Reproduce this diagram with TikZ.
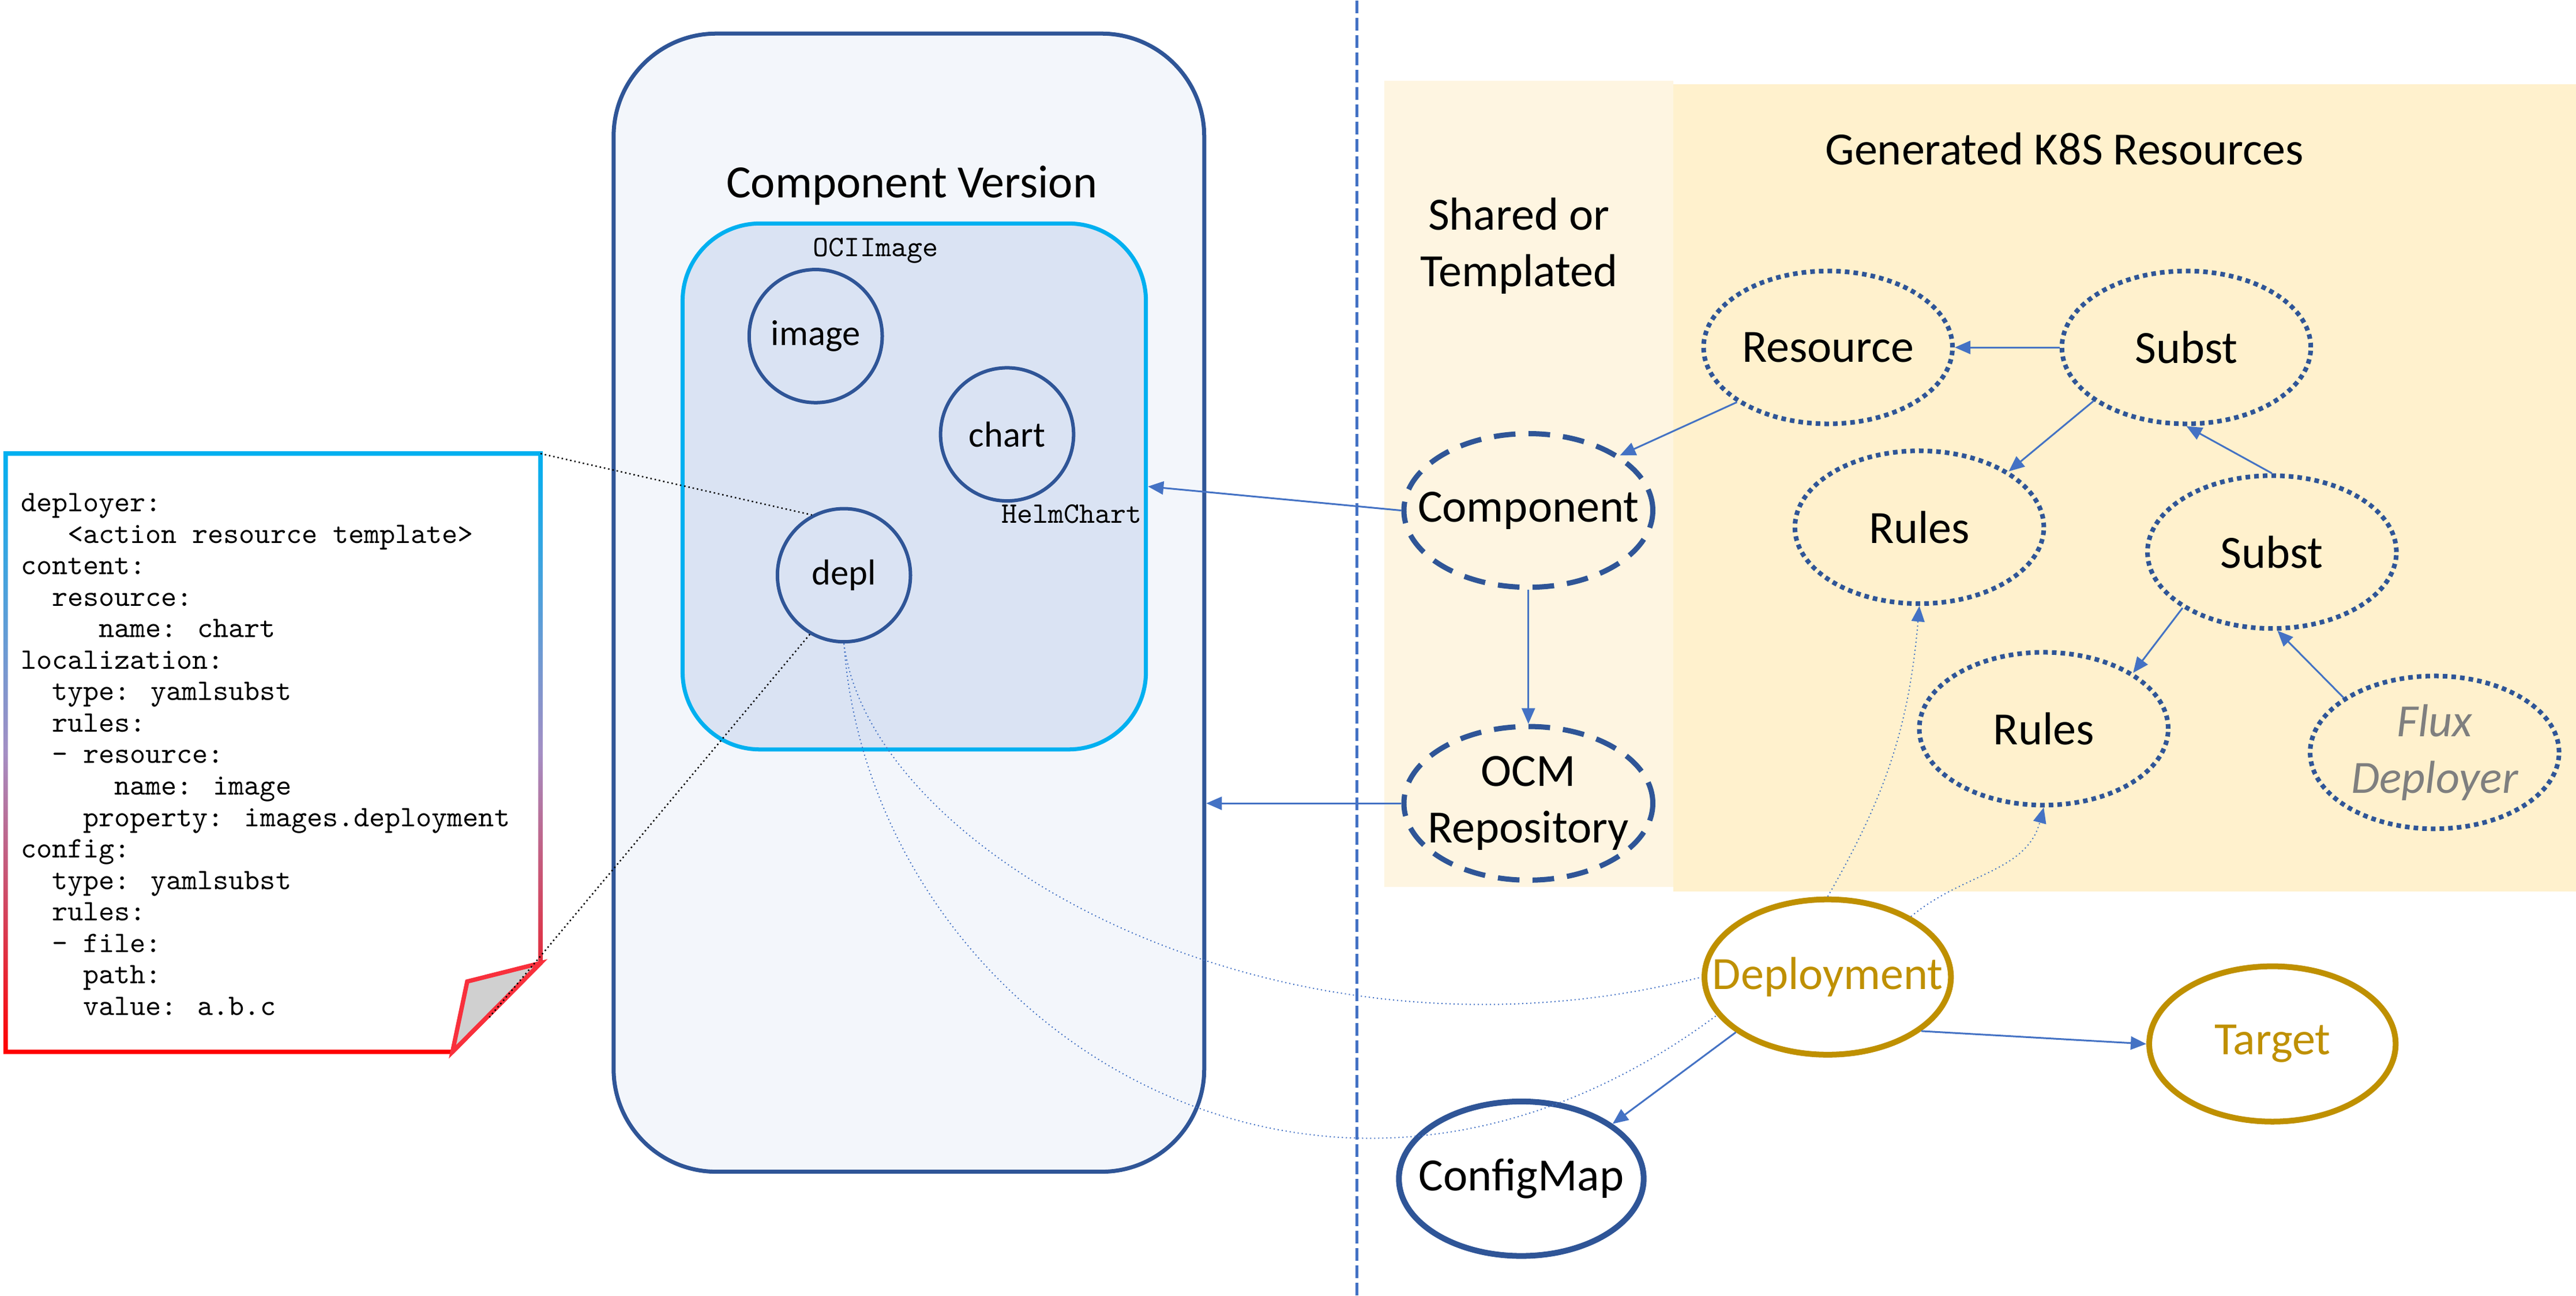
\documentclass[tikz,border=0pt]{standalone}
\usepackage{color}
\usepackage{tikz}
\usepackage{fontspec}
\setmainfont{Carlito}
\usetikzlibrary{shapes.geometric,arrows.meta}

\definecolor{darkblue}{HTML}{2F5597}
\definecolor{lineblue}{HTML}{4472C4}
\definecolor{cyanblue}{HTML}{00B0F0}
\definecolor{innerfill}{HTML}{DAE3F3}
\definecolor{outerfill}{HTML}{F3F6FB}
\definecolor{sharedbg}{HTML}{FEF5E1}
\definecolor{genbg}{HTML}{FFF1CD}
\definecolor{gold}{HTML}{BF9000}
\definecolor{fluxgray}{HTML}{7F7F7F}
\definecolor{notetop}{HTML}{00B0F0}
\definecolor{notemid}{HTML}{A48FC4}
\definecolor{notebot}{HTML}{FF0000}
\definecolor{foldline}{HTML}{F8303C}
\definecolor{foldgray}{HTML}{D0D0D0}

\newcommand{\yind}[1]{\hspace*{#1\fontcharwd\font`\x}}

\tikzset{
   bigtext/.style={font=\fontsize{16}{19.5}\selectfont, align=center},
   restext/.style={font=\fontsize{12.5}{15}\selectfont},
   typetext/.style={font=\fontsize{10.3}{12}\ttfamily},
   codetext/.style={font=\fontsize{10.3}{10.9}\ttfamily, align=left},
   resnode/.style={circle, draw=darkblue, line width=1.2pt, minimum size=1.62cm, inner sep=0pt, restext},
   gennode/.style={ellipse, draw=darkblue, line width=1.6pt, dash pattern=on 1.6pt off 1.4pt, minimum width=3.03cm, minimum height=1.86cm, inner sep=0pt},
   sharednode/.style={ellipse, draw=darkblue, line width=1.8pt, dash pattern=on 7.5pt off 4.5pt, minimum width=3.03cm, minimum height=1.87cm, inner sep=0pt},
   k8snode/.style={ellipse, draw=gold, line width=2pt, minimum width=3.0cm, minimum height=1.89cm, inner sep=0pt},
   cmnode/.style={ellipse, draw=darkblue, line width=2pt, minimum width=2.98cm, minimum height=1.88cm, inner sep=0pt},
   conn/.style={draw=lineblue, line width=0.6pt, -{Triangle[length=1.9mm,width=1.6mm]}},
   deplink/.style={draw=lineblue, line width=0.4pt, densely dotted},
   noteline/.style={draw=black, line width=0.5pt, densely dotted}
}

\begin{document}
\begin{tikzpicture}
   \useasboundingbox (0,0) rectangle (31.36,15.766);

   % backgrounds on the right
   \fill[sharedbg] (16.85,4.97) rectangle (20.37,14.78);
   \fill[genbg] (20.37,4.92) rectangle (31.36,14.74);
   \draw[lineblue, line width=1.1pt, dash pattern=on 4.4pt off 1.6pt] (16.52,0) -- (16.52,15.766);

   \node[bigtext] (sharedtitle) at (18.49,12.774) {Shared or\\Templated};
   \node[bigtext] (gentitle) at (25.13,13.954) {Generated K8S Resources};

   % component version
   \node[draw=darkblue, fill=outerfill, line width=1.4pt, rounded corners=1.25cm, minimum width=7.19cm, minimum height=13.85cm] (cvouter) at (11.065,8.432) {};
   \node[bigtext] (cvtitle) at (11.1,13.506) {Component Version};
   \node[draw=cyanblue, fill=innerfill, line width=1.4pt, rounded corners=0.94cm, minimum width=5.64cm, minimum height=6.4cm] (cvinner) at (11.13,9.846) {};

   \node[resnode] (image) at (9.93,11.676) {image};
   \node[resnode] (chart) at (12.26,10.48) {chart};
   \node[resnode] (depl) at (10.274,8.766) {depl};
   \node[typetext] (ociimage) at (10.66,12.714) {OCIImage};
   \node[typetext] (helmchart) at (13.048,9.514) {HelmChart};

   % the deployer note
   \shade[top color=notetop, bottom color=notebot, middle color=notemid] (0.041,10.273) -- (6.607,10.273) -- (6.607,4.035) -- (5.519,2.939) -- (0.041,2.939) -- cycle;
   \fill[white] (0.095,10.219) -- (6.553,10.219) -- (6.553,4.057) -- (5.497,2.993) -- (0.095,2.993) -- cycle;
   \filldraw[fill=foldgray, draw=foldline, line width=1.5pt, line join=miter] (6.58,4.046) -- (5.688,3.822) -- (5.508,2.966) -- cycle;
   \node[codetext, anchor=west, inner sep=0pt] (yaml) at (0.246,6.586) {deployer:\\
\yind{3}<action resource template>\\
content:\\
\yind{2}resource:\\
\yind{5}name: chart\\
localization:\\
\yind{2}type: yamlsubst\\
\yind{2}rules:\\
\yind{2}- resource:\\
\yind{6}name: image\\
\yind{4}property: images.deployment\\
config:\\
\yind{2}type: yamlsubst\\
\yind{2}rules:\\
\yind{2}- file:\\
\yind{4}path:\\
\yind{4}value: a.b.c};
   \coordinate (notetr) at (6.58,10.246);
   \coordinate (notefold) at (5.956,3.386);
   \draw[noteline] (notetr) -- (depl.118);
   \draw[noteline] (notefold) -- (depl.240);

   % shared or templated
   \node[sharednode, label={[bigtext]center:Component}] (component) at (18.606,9.554) {};
   \node[sharednode, label={[bigtext]center:{OCM\\Repository}}] (ocmrepo) at (18.606,5.99) {};

   % generated resources
   \node[gennode, label={[bigtext]center:Resource}] (resource) at (22.254,11.538) {};
   \node[gennode, label={[bigtext]center:Subst}] (substa) at (26.616,11.538) {};
   \node[gennode, label={[bigtext]center:Rules}] (rulesa) at (23.366,9.35) {};
   \node[gennode, label={[bigtext]center:Subst}] (substb) at (27.658,9.048) {};
   \node[gennode, label={[bigtext]center:Rules}] (rulesb) at (24.88,6.898) {};
   \node[gennode, label={[bigtext, text=fluxgray, font=\fontsize{16}{19.5}\selectfont\itshape]center:{Flux\\Deployer}}] (flux) at (29.638,6.61) {};

   \node[k8snode, label={[bigtext, text=gold]center:Deployment}] (deployment) at (22.25,3.876) {};
   \node[k8snode, label={[bigtext, text=gold]center:Target}] (target) at (27.664,3.062) {};
   \node[cmnode, label={[bigtext]center:ConfigMap}] (configmap) at (18.52,1.422) {};

   \draw[conn] (substa.west) -- (resource.east);
   \draw[conn] (resource.211) -- (component.31);
   \draw[conn] (substa.210) -- (rulesa.32);
   \draw[conn] (substb.north) -- (substa.south);
   \draw[conn] (substb.212) -- (rulesb.32);
   \draw[conn] (flux.149) -- (substb.-86);
   \draw[conn] (component.south) -- (ocmrepo.north);
   \draw[conn] (component.west) -- (cvinner.east);
   \draw[conn] (ocmrepo.west) -- (cvouter.east |- ocmrepo.west);
   \draw[conn] (deployment.-30) -- (target.west);
   \draw[conn] (deployment.211) -- (configmap.31);
   \draw[conn, deplink] (deployment.north) to[out=60, in=-95] (rulesa.south);
   \draw[conn, deplink] (deployment.36) to[out=40, in=-105] (rulesb.south);

   %depl is used by the deployment
   \draw[deplink] (depl.south) .. controls (10.6,5.366) and (15.6,2.566) .. (deployment.west);
   \draw[deplink] (depl.south) .. controls (10.6,3.366) and (16.0,-0.234) .. (deployment.199);
\end{tikzpicture}
\end{document}
